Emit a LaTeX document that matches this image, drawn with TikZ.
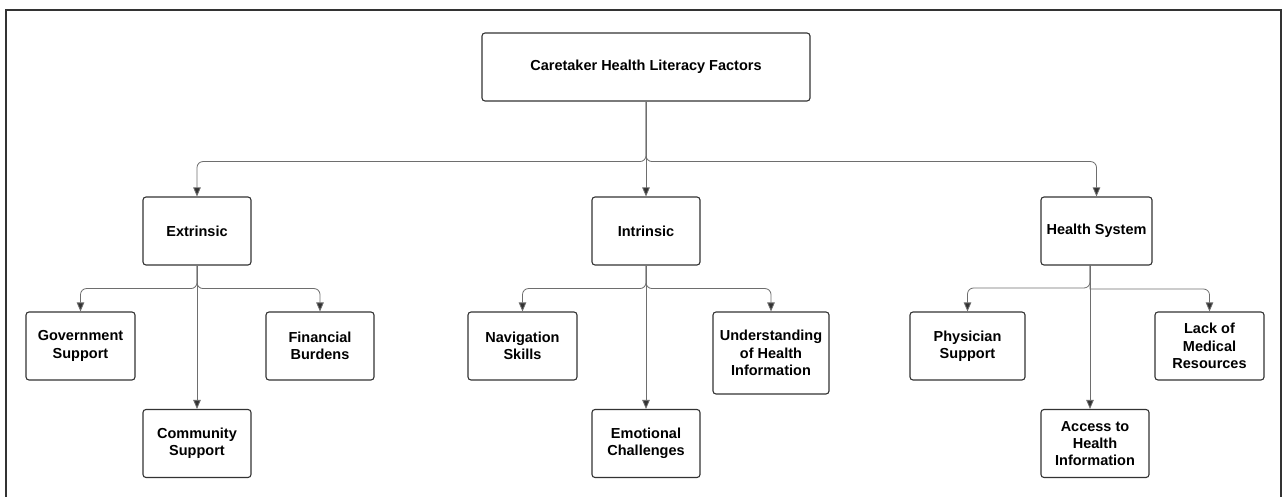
\documentclass[tikz,border=0pt]{standalone}
\usepackage{fontspec}
\setmainfont{Liberation Sans}
\usepackage{xcolor}
\usepackage{tikz}
\usetikzlibrary{shapes,arrows.meta,positioning}

\definecolor{boxline}{HTML}{333333}
\definecolor{connline}{HTML}{6E6E6E}

\begin{document}
\begin{tikzpicture}[x=1pt, y=-1pt]
        \tikzstyle{block} = [rectangle, draw=boxline, line width=1.1pt, fill=white,
            align=center, rounded corners=3pt, inner sep=0pt, minimum width=108pt,
            minimum height=68pt, font=\bfseries\fontsize{14.5}{17.3}\selectfont]
        \tikzstyle{line} = [draw=connline, line width=0.8pt, rounded corners=6pt,
            -{Triangle[length=9pt, width=7.5pt, fill=boxline]}]

        \useasboundingbox (0,0) rectangle (1285,497);
        \draw[boxline, line width=1.3pt] (6,520) |- (1281,10) -- (1281,520);

        \node [block, minimum width=328pt] (root) at (646,67) {Caretaker Health Literacy Factors};

        \node [block] (ext) at (197,231) {Extrinsic};
        \node [block] (intr) at (646,231) {Intrinsic};
        \node [block, minimum width=111pt] (hsys) at (1096.5,231) {Health System};

        \node [block, minimum width=109pt] (gov) at (80.5,346) {Government\\Support};
        \node [block] (fin) at (320,346) {Financial\\Burdens};
        \node [block] (comm) at (197,443.5) {Community\\Support};

        \node [block, minimum width=109pt] (nav) at (522.5,346) {Navigation\\Skills};
        \node [block, minimum width=116pt, minimum height=82pt] (under) at (771,353) {Understanding\\of Health\\Information};
        \node [block] (emo) at (646,443.5) {Emotional\\Challenges};

        \node [block, minimum width=115pt] (phys) at (967.5,346) {Physician\\Support};
        \node [block, minimum width=109pt] (lack) at (1209.5,346) {Lack of\\Medical\\Resources};
        \node [block] (acc) at (1095,443.5) {Access to\\Health\\Information};

        \coordinate (hsbot) at (1090,265);

        \path [line] (root.south) -- ++(0,60) -| (ext.north);
        \path [line] (root.south) -- (intr.north);
        \path [line] (root.south) -- ++(0,60) -| (hsys.north);

        \path [line] (ext.south) -- ++(0,23) -| (gov.north);
        \path [line] (ext.south) -- (comm.north);
        \path [line] (ext.south) -- ++(0,23) -| (fin.north);

        \path [line] (intr.south) -- ++(0,23) -| (nav.north);
        \path [line] (intr.south) -- (emo.north);
        \path [line] (intr.south) -- ++(0,23) -| (under.north);

        \path [line] (hsbot) -- ++(0,23) -| (phys.north);
        \path [line] (hsbot) -- (hsbot |- acc.north);
        \path [line, rounded corners=0pt] (hsbot) -- ++(0,24) -- ++(113,0)
            [rounded corners=6pt] -| (lack.north);
      \end{tikzpicture}
\end{document}
